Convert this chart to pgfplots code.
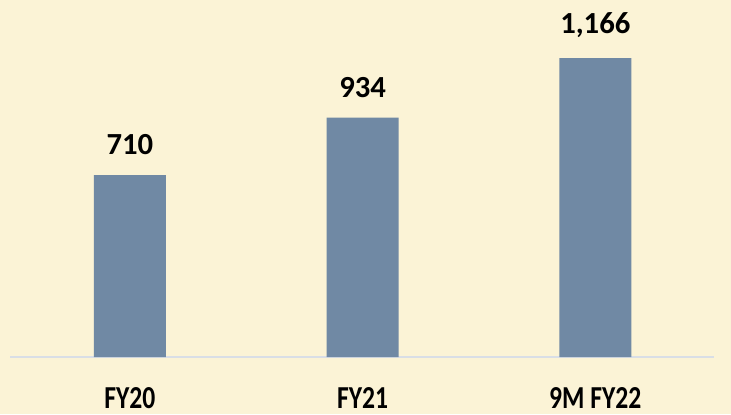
\documentclass[border=0pt]{standalone}
\usepackage{pgfplots}
\pgfplotsset{compat=1.18}
\usepackage{fontspec}
\setmainfont{Carlito}
\newfontfamily\condfont[FakeStretch=0.8]{Carlito}
\definecolor{bgc}{RGB}{251,243,214}
\definecolor{barc}{RGB}{112,137,164}
\definecolor{basec}{RGB}{217,222,230}
\begin{document}
\begin{tikzpicture}
\fill[bgc] (0,0) rectangle (548.25pt,310.5pt);
\begin{axis}[
  at={(7.5pt,42.75pt)}, anchor=south west,
  scale only axis,
  width=528pt, height=249.9pt,
  xmin=-0.515, xmax=2.51,
  ymin=0, ymax=1300,
  axis x line*=bottom,
  axis y line=none,
  x axis line style={draw=basec, line width=1.2pt, -},
  xtick={0,1,2},
  xticklabels={FY20,FY21,9M FY22},
  xtick style={draw=none},
  xticklabel style={anchor=base, inner sep=0pt, yshift=-34pt, font=\condfont\fontsize{24pt}{26pt}\selectfont\bfseries},
  ybar, bar width=54pt,
  /pgf/number format/assume math mode=true,
  nodes near coords={\pgfmathprintnumber[1000 sep={,}, assume math mode=true]{\pgfplotspointmeta}},
  nodes near coords style={anchor=south, inner sep=0pt, yshift=15pt, font=\fontsize{23pt}{26pt}\selectfont\bfseries, text=black},
]
\addplot[fill=barc, draw=none] coordinates {(0,710) (1,934) (2,1166)};
\end{axis}
\pgfresetboundingbox
\path[use as bounding box] (0,0) rectangle (548.25pt,310.5pt);
\end{tikzpicture}
\end{document}
